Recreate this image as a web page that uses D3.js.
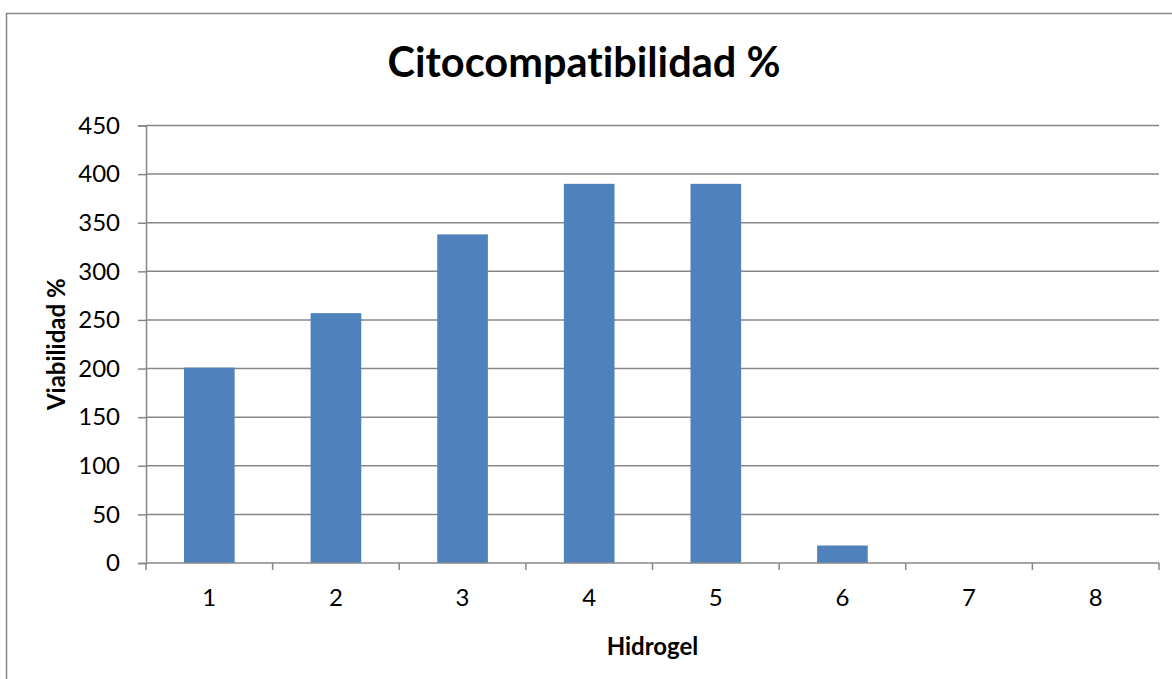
<!DOCTYPE html>
<html>
<head>
<meta charset="utf-8">
<script src="https://cdn.jsdelivr.net/npm/d3@7"></script>
<style>
  body { margin: 0; background: #fff; }
  svg { display: block; font-family: Lato, "Open Sans", sans-serif; font-variant-ligatures: none; }
</style>
</head>
<body>
<div id="chart"></div>
<script>
// data
const categories = ['1', '2', '3', '4', '5', '6', '7', '8'];
const values = [201, 257, 338, 390, 390, 18, 0, 0];
const yTicks = [0, 50, 100, 150, 200, 250, 300, 350, 400, 450];

const width = 1172;
const height = 679;
const marginLeft = 146;
const marginRight = 13;
const marginTop = 125.5;
const marginBottom = 116;

const $svg = d3.select('#chart').append('svg')
  .attr('width', width)
  .attr('height', height);

// outer frame (runs off the picture at right and bottom)
$svg.append('rect')
  .attr('x', 6.5).attr('y', 13.5)
  .attr('width', 1200).attr('height', 700)
  .attr('fill', 'none')
  .attr('stroke', '#888')
  .attr('stroke-width', 1.5);

const scaleX = d3.scaleBand()
  .domain(categories)
  .range([marginLeft, width - marginRight])
  .paddingInner(0.6)
  .paddingOuter(0.3);

const scaleY = d3.scaleLinear()
  .domain([0, 450])
  .range([height - marginBottom, marginTop]);

// gridlines
$svg.append('g').selectAll('line')
  .data(yTicks.filter(d => d > 0))
  .enter().append('line')
  .attr('x1', marginLeft).attr('x2', width - marginRight)
  .attr('y1', d => scaleY(d)).attr('y2', d => scaleY(d))
  .attr('stroke', '#878787')
  .attr('stroke-width', 1.5);

// bars
$svg.append('g').selectAll('rect')
  .data(values)
  .enter().append('rect')
  .attr('x', (d, i) => scaleX(categories[i]))
  .attr('width', scaleX.bandwidth())
  .attr('y', d => scaleY(d))
  .attr('height', d => scaleY(0) - scaleY(d))
  .attr('fill', '#4F81BD');

// y axis
const yAxis = d3.axisLeft(scaleY)
  .tickValues(yTicks)
  .tickSize(8)
  .tickPadding(18);
const $y = $svg.append('g')
  .attr('transform', `translate(${marginLeft},0)`)
  .call(yAxis);
$y.select('.domain').attr('stroke', '#878787').attr('stroke-width', 1.5);
$y.selectAll('.tick line').attr('stroke', '#878787').attr('stroke-width', 1.5);
$y.selectAll('.tick text')
  .attr('font-size', 24)
  .attr('font-family', 'Lato, sans-serif')
  .attr('fill', '#000');

// x axis: ticks on category boundaries
const $x = $svg.append('g')
  .attr('transform', `translate(0,${scaleY(0)})`);
$x.append('line')
  .attr('x1', marginLeft).attr('x2', width - marginRight)
  .attr('stroke', '#878787').attr('stroke-width', 1.5);
const step = scaleX.step();
$x.selectAll('.bound')
  .data(d3.range(categories.length + 1))
  .enter().append('line')
  .attr('class', 'bound')
  .attr('x1', i => marginLeft + i * step).attr('x2', i => marginLeft + i * step)
  .attr('y1', 0).attr('y2', 7)
  .attr('stroke', '#878787').attr('stroke-width', 1.5);
$x.selectAll('text')
  .data(categories)
  .enter().append('text')
  .attr('x', d => scaleX(d) + scaleX.bandwidth() / 2)
  .attr('y', 43)
  .attr('text-anchor', 'middle')
  .attr('font-size', 24)
  .text(d => d);

// titles
$svg.append('text')
  .attr('x', 584).attr('y', 77)
  .attr('text-anchor', 'middle')
  .attr('font-size', 41.5)
  .attr('font-weight', 'bold')
  .text('Citocompatibilidad %');

$svg.append('text')
  .attr('x', (marginLeft + width - marginRight) / 2).attr('y', 655)
  .attr('text-anchor', 'middle')
  .attr('font-size', 24)
  .attr('font-weight', 'bold')
  .text('Hidrogel');

$svg.append('text')
  .attr('transform', `translate(65,${(marginTop + height - marginBottom) / 2}) rotate(-90)`)
  .attr('text-anchor', 'middle')
  .attr('font-size', 24)
  .attr('font-weight', 'bold')
  .text('Viabilidad %');
</script>
</body>
</html>
